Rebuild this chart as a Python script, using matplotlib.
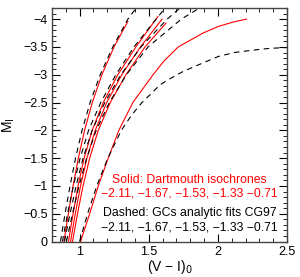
import numpy as np
import matplotlib
matplotlib.use("Agg")
import matplotlib.pyplot as plt
from matplotlib.ticker import MultipleLocator

plt.rcParams['font.family'] = ['Liberation Sans', 'DejaVu Sans']

# metallicities [Fe/H]
feh = ["-2.11", "-1.67", "-1.53", "-1.33", "-0.71"]

# Dartmouth isochrones (solid, red): M_I and (V-I)_0 for each [Fe/H]
dart_mi = [
    [0, -0.5, -1, -1.5, -2, -2.5, -3, -3.5, -3.96],
    [0, -0.5, -1, -1.5, -2, -2.5, -3, -3.5, -4.05],
    [0, -0.5, -1, -1.5, -2, -2.5, -3, -3.5, -4.0],
    [0, -0.5, -1, -1.5, -2, -2.5, -3, -3.5, -3.93],
    [0, -0.5, -1, -1.5, -2, -2.5, -3, -3.25, -3.5, -3.75, -3.87, -3.95, -4.0],
]
dart_vi = [
    [0.887, 0.919, 0.953, 0.991, 1.036, 1.092, 1.161, 1.249, 1.349],
    [0.920, 0.953, 0.989, 1.033, 1.091, 1.171, 1.276, 1.407, 1.567],
    [0.935, 0.969, 1.007, 1.053, 1.113, 1.196, 1.305, 1.440, 1.596],
    [0.949, 0.985, 1.025, 1.073, 1.135, 1.222, 1.335, 1.473, 1.625],
    [1.007, 1.073, 1.135, 1.207, 1.284, 1.385, 1.531, 1.611, 1.713, 1.892, 2.004, 2.113, 2.207],
]

# GC analytic fits on the CG97 scale (dashed, black)
fit_mi = [
    [0, -0.5, -1, -1.5, -2, -2.5, -3, -3.5, -4, -4.22],
    [0, -0.5, -1, -1.5, -2, -2.5, -3, -3.5, -4, -4.22],
    [0, -0.5, -1, -1.5, -2, -2.5, -3, -3.5, -4, -4.22],
    [0, -0.5, -1, -1.5, -2, -2.5, -3, -3.5, -4, -4.22],
    [0, -0.5, -1, -1.5, -2, -2.28, -2.5, -2.64, -2.82, -2.91, -3.06, -3.2, -3.33, -3.4, -3.44, -3.475, -3.49],
]
fit_vi = [
    [0.862, 0.895, 0.931, 0.971, 1.018, 1.076, 1.149, 1.240, 1.349, 1.415],
    [0.876, 0.913, 0.955, 1.004, 1.065, 1.153, 1.262, 1.393, 1.553, 1.625],
    [0.891, 0.931, 0.975, 1.025, 1.091, 1.182, 1.298, 1.444, 1.633, 1.735],
    [0.905, 0.949, 0.996, 1.051, 1.120, 1.215, 1.338, 1.495, 1.735, 1.880],
    [1.000, 1.058, 1.124, 1.204, 1.302, 1.378, 1.451, 1.509, 1.582, 1.640, 1.749, 1.880, 2.004, 2.120, 2.244, 2.375, 2.505],
]

fig = plt.figure(figsize=(3.0, 2.77), dpi=100)
ax = fig.add_axes([0.173, 0.128, 0.784, 0.843])

for x, y in zip(dart_vi, dart_mi):
    ax.plot(x, y, color="red", lw=0.8)
for x, y in zip(fit_vi, fit_mi):
    ax.plot(x, y, color="black", lw=0.8, dashes=(5, 4))

ax.set_xlim(0.8, 2.5)
ax.set_ylim(0, -4.2)
ax.xaxis.set_minor_locator(MultipleLocator(0.1))
ax.yaxis.set_minor_locator(MultipleLocator(0.1))
ax.set_xticks([1, 1.5, 2, 2.5])
ax.set_xticklabels(["1", "1.5", "2", "2.5"])
ax.set_yticks([0, -0.5, -1, -1.5, -2, -2.5, -3, -3.5, -4])
ax.set_yticklabels(["0", "\u22120.5", "\u22121", "\u22121.5", "\u22122",
                    "\u22122.5", "\u22123", "\u22123.5", "\u22124"])
ax.tick_params(which="both", direction="in", top=True, right=True, labelsize=9, pad=3)
ax.tick_params(which="major", length=6, width=0.8)
ax.tick_params(which="minor", length=3, width=0.6)
for s in ax.spines.values():
    s.set_linewidth(1.0)
    s.set_color("#444444")

ax.set_xlabel("(V \u2212 I)$_0$", fontsize=10, labelpad=0)
ax.set_ylabel("M$_\\mathrm{I}$", fontsize=10)
ax.yaxis.set_label_coords(-0.15, 0.5)

nums = "\u22122.11, \u22121.67, \u22121.53, \u22121.33 \u22120.71"
ax.text(0.585, 0.262, "Solid: Dartmouth isochrones", color="red", fontsize=8.8,
        ha="center", va="center", transform=ax.transAxes)
ax.text(0.585, 0.206, nums, color="red", fontsize=8.8,
        ha="center", va="center", transform=ax.transAxes)
ax.text(0.585, 0.124, "Dashed: GCs analytic fits CG97", color="black", fontsize=8.8,
        ha="center", va="center", transform=ax.transAxes)
ax.text(0.585, 0.06, nums, color="black", fontsize=8.8,
        ha="center", va="center", transform=ax.transAxes)

fig.savefig("out.png", dpi=100)
